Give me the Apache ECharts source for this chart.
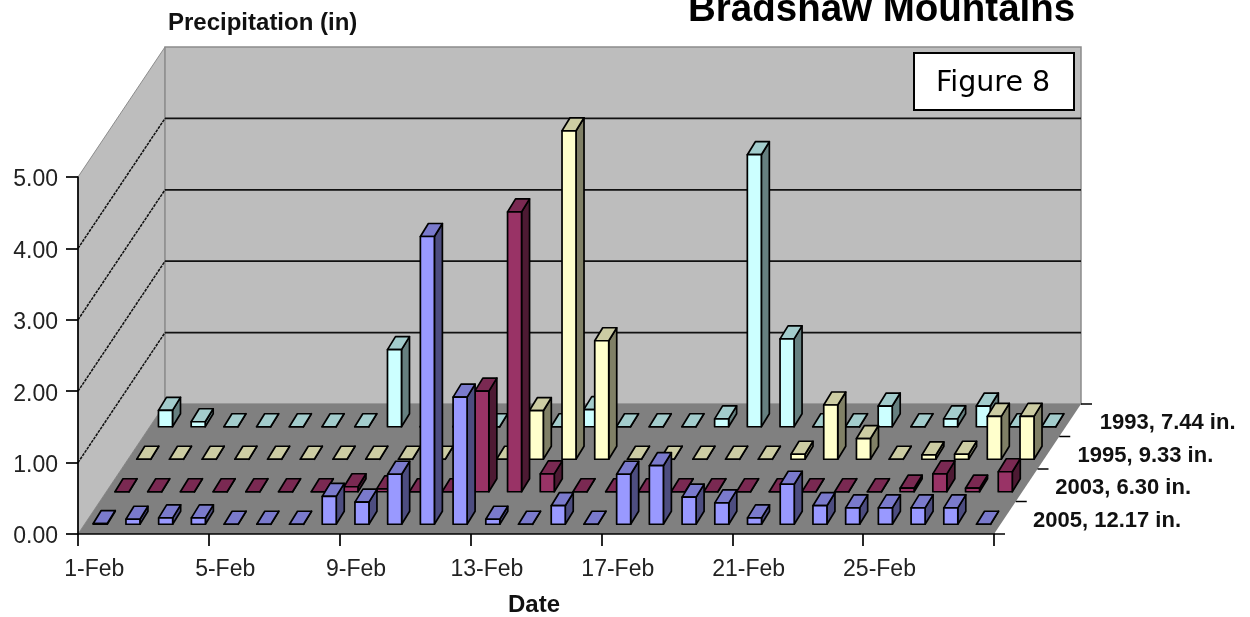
<!DOCTYPE html>
<html><head><meta charset="utf-8">
<style>html,body{margin:0;padding:0;background:#fff}#c{width:1250px;height:617px}</style>
<script src="https://cdn.jsdelivr.net/npm/echarts@6/dist/echarts.min.js"></script>
</head><body><div id="c"></div>
<script>
const dates = ['1-Feb','2-Feb','3-Feb','4-Feb','5-Feb','6-Feb','7-Feb','8-Feb','9-Feb','10-Feb','11-Feb','12-Feb','13-Feb','14-Feb','15-Feb','16-Feb','17-Feb','18-Feb','19-Feb','20-Feb','21-Feb','22-Feb','23-Feb','24-Feb','25-Feb','26-Feb','27-Feb','28-Feb'];
const rowNames = ['2005, 12.17 in.','2003, 6.30 in.','1995, 9.33 in.','1993, 7.44 in.'];
const values2005 = [0.01,0.07,0.09,0.09,0,0,0,0.39,0.31,0.70,4.03,1.78,0.07,0,0.26,0,0.70,0.82,0.38,0.30,0.09,0.56,0.26,0.23,0.23,0.23,0.23,0];
const values2003 = [0,0,0,0,0,0,0,0.07,0.04,0,0,1.41,3.92,0.25,0,0,0,0,0,0,0,0,0,0,0.05,0.25,0.05,0.28];
const values1995 = [0,0,0,0,0,0,0,0,0,0,0,0,0.68,4.60,1.66,0,0,0,0,0,0.07,0.76,0.29,0,0.06,0.07,0.60,0.60];
const values1993 = [0.23,0.07,0,0,0,0,0,1.08,0,0,0,0,0,0.24,0,0,0,0.11,3.81,1.23,0,0,0.29,0,0.11,0.29,0,0];
const yTicks = [0,1,2,3,4,5];

const FLOOR = [87,-130], ROWS = 4;
const ROW = [FLOOR[0]/ROWS, FLOOR[1]/ROWS];
const BAR = [8,-13], BAR_W = 14;
const palette = [
  {front:'#9999FF', side:'#4D4D80', top:'#7A7ACC'},
  {front:'#993366', side:'#4D1A33', top:'#7A2952'},
  {front:'#FFFFCC', side:'#808066', top:'#CCCCA3'},
  {front:'#CCFFFF', side:'#668080', top:'#A3CCCC'}
];
const SANS = '"Liberation Sans", Arial, sans-serif';

function barSeries(values, row){
  const col = palette[row];
  return {
    type:'custom', coordinateSystem:'cartesian2d', z:2, silent:true, clip:false,
    data: values.map((v,i)=>[i,v]),
    renderItem(params, api){
      const base = api.coord([api.value(0),0]), tip = api.coord([api.value(0),api.value(1)]);
      const x0 = base[0]-BAR_W/2 + row*ROW[0] + (ROW[0]-BAR[0])/2 - 1;
      const x1 = x0+BAR_W;
      const yb = base[1] + row*ROW[1] + (ROW[1]-BAR[1])/2;
      const yt = tip[1] + row*ROW[1] + (ROW[1]-BAR[1])/2;
      const stroke = {stroke:'#000', lineWidth:1.7, lineJoin:'round'};
      const poly = (pts,fill)=>({type:'polygon',shape:{points:pts},style:Object.assign({fill},stroke)});
      return {type:'group',children:[
        poly([[x1,yb],[x1+BAR[0],yb+BAR[1]],[x1+BAR[0],yt+BAR[1]],[x1,yt]],col.side),
        poly([[x0,yt],[x1,yt],[x1+BAR[0],yt+BAR[1]],[x0+BAR[0],yt+BAR[1]]],col.top),
        poly([[x0,yb],[x1,yb],[x1,yt],[x0,yt]],col.front)
      ]};
    }
  };
}

const wallSeries = {
  type:'custom', coordinateSystem:'cartesian2d', z:1, silent:true, clip:false,
  data:[[0,0]],
  renderItem(params, api){
    const cs = params.coordSys;
    const L = cs.x, R = cs.x+cs.width;
    const y0 = api.coord([0,0])[1], yTop = api.coord([0,yTicks[yTicks.length-1]])[1];
    const dx = FLOOR[0], dy = FLOOR[1];
    const wall = '#BDBDBD', edge = '#8C8C8C';
    const kids = [
      {type:'polygon',shape:{points:[[L,y0],[L+dx,y0+dy],[L+dx,yTop+dy],[L,yTop]]},style:{fill:wall,stroke:edge,lineWidth:1}},
      {type:'polygon',shape:{points:[[L+dx,y0+dy],[R+dx,y0+dy],[R+dx,yTop+dy],[L+dx,yTop+dy]]},style:{fill:wall,stroke:edge,lineWidth:1.5}},
      {type:'polygon',shape:{points:[[L,y0],[R,y0],[R+dx,y0+dy],[L+dx,y0+dy]]},style:{fill:'#808080'}}
    ];
    yTicks.slice(1,-1).forEach(t=>{
      const y = api.coord([0,t])[1];
      kids.push({type:'line',shape:{x1:L,y1:y,x2:L+dx,y2:y+dy},style:{stroke:'#111',lineWidth:1.5,lineDash:[3,1]}});
      kids.push({type:'line',shape:{x1:L+dx,y1:y+dy,x2:R+dx,y2:y+dy},style:{stroke:'#111',lineWidth:1.7}});
    });
    for(let r=0;r<=ROWS;r++){
      const ex = R+r*ROW[0], ey = y0+r*ROW[1];
      kids.push({type:'line',shape:{x1:ex,y1:ey,x2:ex+11,y2:ey},style:{stroke:'#000',lineWidth:1.5}});
    }
    rowNames.forEach((n,r)=>{
      kids.push({type:'text',style:{text:n,x:R+39+r*ROW[0]+r*0.5,y:y0+(r+0.5)*ROW[1]+3,textAlign:'left',textVerticalAlign:'middle',
        fill:'#111',font:'bold 22px '+SANS}});
    });
    return {type:'group',children:kids};
  }
};

const chart = echarts.init(document.getElementById('c'),null,{renderer:'canvas'});
chart.setOption({
  animation:false, backgroundColor:'#fff',
  title:{text:'Bradshaw Mountains',left:688,top:-9,padding:0,
    textStyle:{fontFamily:SANS,fontWeight:'bold',fontSize:38.5,color:'#000'}},
  grid:{left:78,right:256,top:177,bottom:83,containLabel:false,outerBoundsMode:'none'},
  xAxis:{type:'category',data:dates,boundaryGap:true,z:3,
    name:'Date',nameLocation:'middle',nameGap:59,
    nameTextStyle:{fontFamily:SANS,fontWeight:'bold',fontSize:24,color:'#111',padding:[0,4,0,0]},
    axisLine:{show:true,onZero:false,lineStyle:{color:'#000',width:1.7}},
    axisTick:{show:true,interval:3,length:12,alignWithLabel:false,lineStyle:{color:'#000',width:1.7}},
    axisLabel:{interval:3,margin:24,fontSize:23,color:'#222',fontFamily:SANS},
    splitLine:{show:false}},
  yAxis:{type:'value',min:0,max:5,interval:1,z:3,
    name:'Precipitation (in)',nameLocation:'end',nameGap:142,
    nameTextStyle:{fontFamily:SANS,fontWeight:'bold',fontSize:24,color:'#111',align:'left',padding:[0,0,0,90]},
    axisLine:{show:true,lineStyle:{color:'#000',width:1.7}},
    axisTick:{show:true,length:12,lineStyle:{color:'#000',width:1.7}},
    axisLabel:{margin:20,color:'#222',formatter:v=>'{n|'+v.toFixed(2)+'}',
      rich:{n:{fontSize:23,color:'#222',fontFamily:SANS,padding:[6,0,0,0]}}},
    splitLine:{show:false}},
  graphic:[
    {type:'rect',z:10,shape:{x:914,y:53,width:160,height:57},style:{fill:'#fff',stroke:'#000',lineWidth:2}},
    {type:'text',z:11,style:{text:'Figure 8',x:993,y:84,textAlign:'center',textVerticalAlign:'middle',fill:'#000',font:'28.5px "DejaVu Sans", sans-serif'}}
  ],
  series:[wallSeries, barSeries(values1993,3), barSeries(values1995,2), barSeries(values2003,1), barSeries(values2005,0)]
});
</script></body></html>
